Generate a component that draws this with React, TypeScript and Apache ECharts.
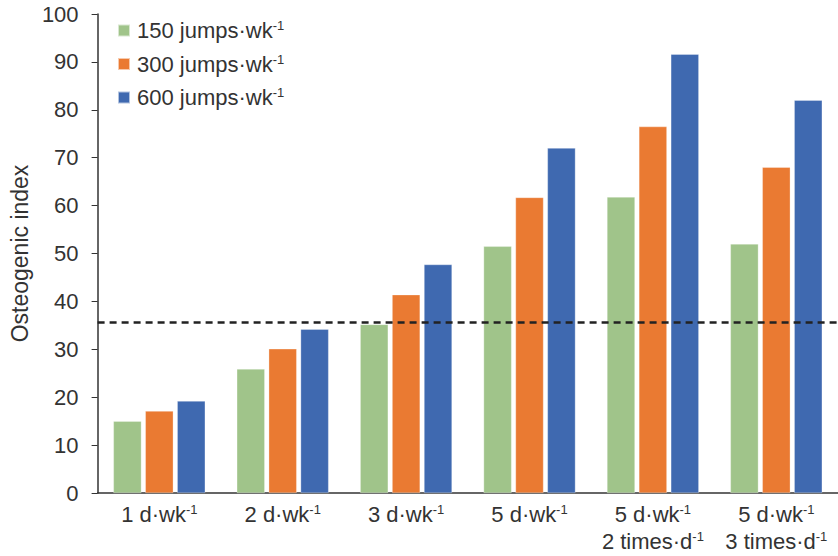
import React, { useEffect, useRef } from "react";
import * as echarts from "echarts";

const categories = ["1 d·wk-1", "2 d·wk-1", "3 d·wk-1", "5 d·wk-1", "5 d·wk-1 2 times·d-1", "5 d·wk-1 3 times·d-1"];
const categoryLabels = [
  "1 d·wk{sup|-1}",
  "2 d·wk{sup|-1}",
  "3 d·wk{sup|-1}",
  "5 d·wk{sup|-1}",
  "5 d·wk{sup|-1}\n2 times·d{sup|-1}",
  "5 d·wk{sup|-1}\n3 times·d{sup|-1}",
];
const seriesNames = ["150 jumps·wk-1", "300 jumps·wk-1", "600 jumps·wk-1"];
const legendLabels = ["150 jumps·wk{sup|-1}", "300 jumps·wk{sup|-1}", "600 jumps·wk{sup|-1}"];
const jumps150 = [15, 25.9, 35.2, 51.5, 61.8, 52];
const jumps300 = [17.1, 30.1, 41.4, 61.7, 76.5, 68];
const jumps600 = [19.2, 34.2, 47.7, 72, 91.6, 82];
const thresholdValue = 35.6;
const colors = ["#A0C48A", "#EA7A32", "#3F69B0"];

const FONT = "'Liberation Sans', Arial, sans-serif";
const TEXT = "#333333";

export default function App() {
  const ref = useRef<HTMLDivElement>(null);
  useEffect(() => {
    if (!ref.current) return;
    const chart = echarts.init(ref.current, undefined, { renderer: "svg" });
    const data = [jumps150, jumps300, jumps600];
    chart.setOption({
      animation: false,
      textStyle: { fontFamily: FONT },
      grid: { left: 90, right: 0, top: 14, bottom: 63, containLabel: false },
      legend: {
        orient: "vertical",
        left: 112,
        top: 14,
        itemWidth: 12,
        itemHeight: 12,
        itemGap: 11,
        icon: "rect",
        data: seriesNames,
        formatter: (name: string) => legendLabels[seriesNames.indexOf(name)],
        textStyle: {
          fontSize: 22,
          color: TEXT,
          fontFamily: FONT,
          padding: [0, 0, 0, 2],
          rich: {
            sup: { fontSize: 13, color: TEXT, fontFamily: FONT, padding: [0, 0, 10, 0] },
          },
        },
      },
      xAxis: {
        type: "category",
        data: categories,
        axisLine: { lineStyle: { color: "#333", width: 1.5 } },
        axisTick: { show: false },
        axisLabel: {
          interval: 0,
          margin: 8,
          fontSize: 22,
          color: TEXT,
          fontFamily: FONT,
          lineHeight: 27,
          formatter: (_v: string, i: number) => categoryLabels[i],
          rich: {
            sup: { fontSize: 13, color: TEXT, fontFamily: FONT, lineHeight: 27, padding: [0, 0, 11, 0] },
          },
        },
      },
      yAxis: {
        type: "value",
        min: 0,
        max: 100,
        interval: 10,
        name: "Osteogenic index",
        nameLocation: "middle",
        nameGap: 61,
        nameRotate: 90,
        nameTextStyle: { fontSize: 23, color: TEXT, fontFamily: FONT },
        axisLine: { show: true, lineStyle: { color: "#333", width: 1.5 } },
        axisTick: { show: true, length: 6, lineStyle: { color: "#333" } },
        axisLabel: { fontSize: 22, color: TEXT, fontFamily: FONT, margin: 19 },
        splitLine: { show: false },
      },
      series: seriesNames.map((name, i) => ({
        name,
        type: "bar",
        data: data[i],
        barWidth: 28,
        barGap: "14%",
        itemStyle: { color: colors[i], borderColor: "rgba(255,255,255,0.6)", borderWidth: 0.5 },
        ...(i === 2
          ? {
              markLine: {
                silent: true,
                symbol: "none",
                label: { show: false },
                lineStyle: { color: "#222", width: 2.5, type: [7, 5] },
                data: [{ yAxis: thresholdValue }],
              },
            }
          : {}),
      })),
    });
    return () => chart.dispose();
  }, []);
  return <div ref={ref} style={{ width: 838, height: 556, position: "absolute", left: 0, top: 0 }} />;
}
